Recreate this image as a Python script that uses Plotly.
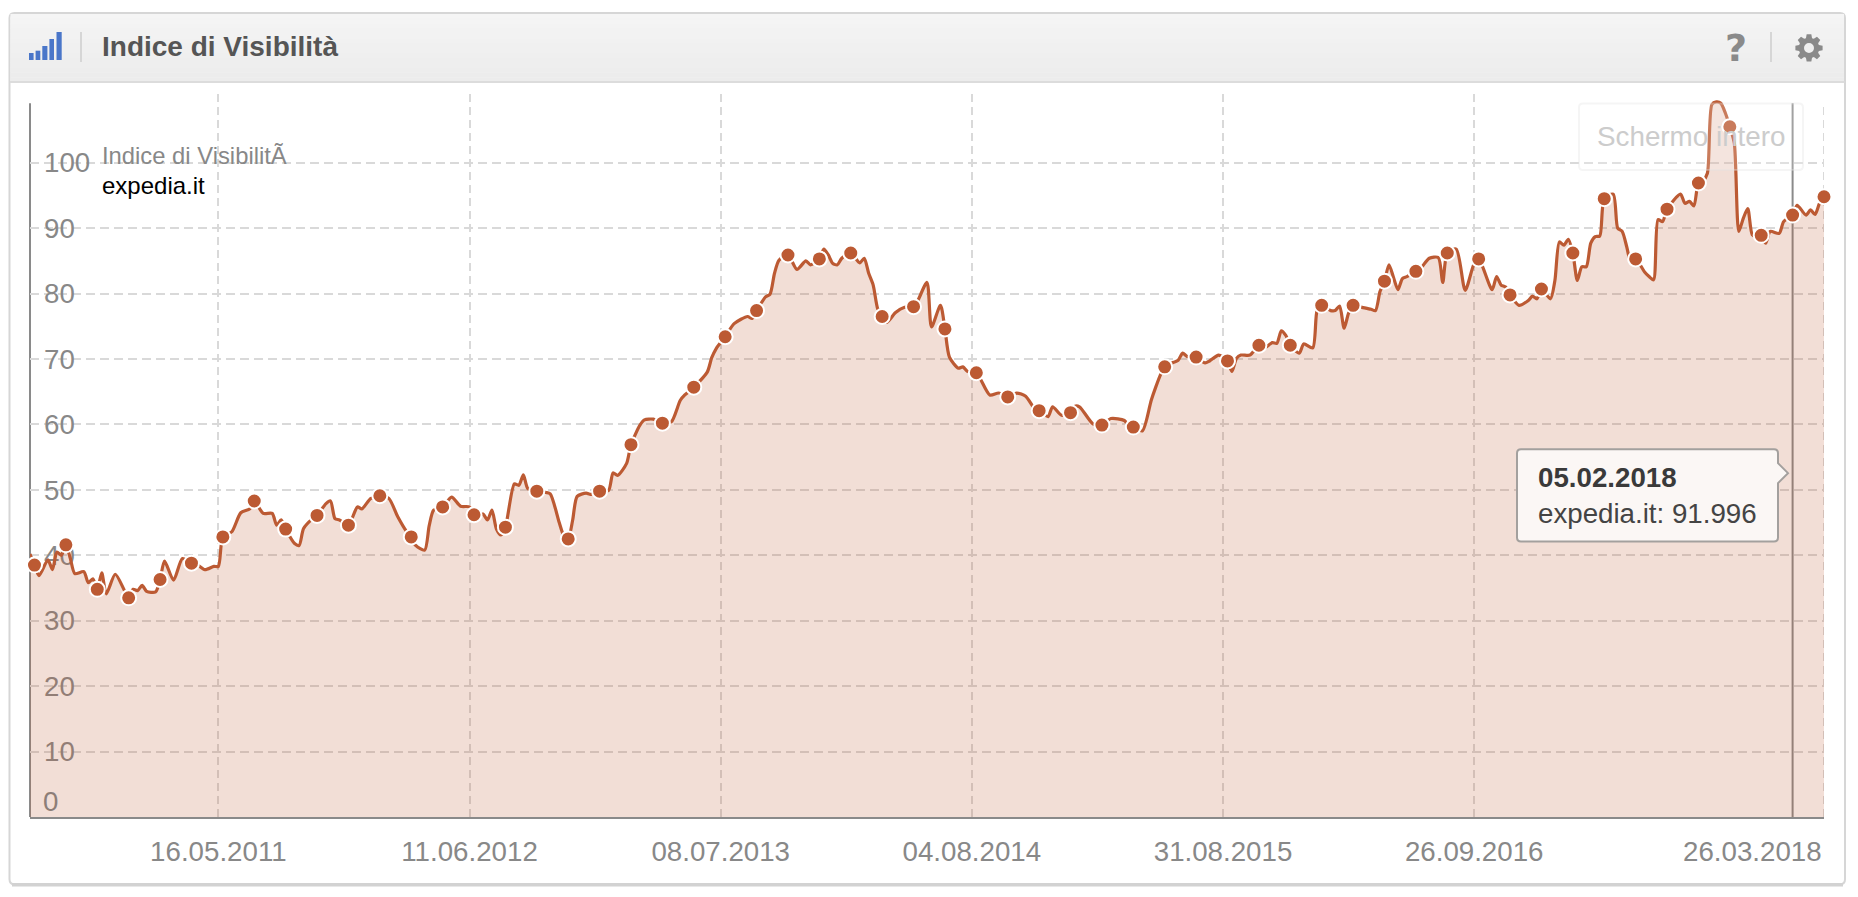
import math
import pandas as pd
import plotly.graph_objects as go

# ---------- data ----------
SERIES_NAME = "expedia.it"
FIRST_WEEK = "2010-07-26"
marker_weeks = list(range(1, 401, 7))
marker_values = [38.5, 41.6, 34.8, 33.5, 36.3, 38.8, 42.8, 48.3, 44.0, 46.1, 44.6, 49.1, 42.8, 47.4, 46.2,
                 44.3, 49.8, 42.5, 49.8, 56.9, 60.2, 65.7, 73.4, 77.4, 85.9, 85.3, 86.2, 76.5, 78.0, 74.6,
                 67.9, 64.2, 62.1, 61.8, 59.9, 59.6, 68.8, 70.3, 69.7, 72.1, 72.1, 78.2, 78.2, 81.9, 83.4,
                 86.2, 85.3, 79.8, 80.7, 86.2, 94.5, 85.3, 92.9, 96.9, 105.5, 88.9, 92.0, 94.8]
line_weeks = [0, 2, 4, 5, 6, 7, 9, 10, 12, 13, 14, 16, 17, 19, 21, 23, 24, 25, 26, 28, 30, 32, 34, 37, 39, 41, 42,
              45, 47, 49, 52, 54, 55, 56, 59, 60, 61, 63, 66, 67, 68, 69, 73, 74, 76, 77, 80, 82, 84, 86, 88, 89, 90,
              94, 96, 98, 101, 102, 103, 104, 105, 108, 109, 110, 111, 115, 116, 118, 119, 121, 122, 124, 125,
              129, 130, 131, 133, 136, 137, 139, 143, 145, 146, 151, 152, 153, 157, 160, 161, 164, 165, 166, 167,
              171, 173, 174, 177, 178, 179, 180, 181, 185, 186, 187, 188, 189, 191, 193, 195, 198, 200, 201, 203,
              205, 207, 208, 209, 214, 216, 220, 222, 224, 227, 228, 230, 233, 234, 237, 241, 244, 245, 248, 250,
              251, 252, 255, 256, 257, 258, 262, 263, 265, 266, 268, 269, 270, 272, 275, 277, 278, 279, 280, 283,
              284, 286, 287, 290, 291, 292, 293, 294, 297, 299, 300, 301, 303, 304, 305, 306, 307, 310, 312, 314,
              315, 318, 320, 322, 326, 327, 328, 329, 332, 334, 335, 336, 339, 340, 341, 342, 343, 345, 346, 347,
              348, 349, 350, 353, 354, 355, 356, 357, 360, 361, 362, 363, 364, 368, 369, 370, 371, 373, 374, 375,
              376, 377, 378, 380, 381, 382, 383, 384, 385, 387, 388, 390, 391, 394, 396, 397, 398, 399]
line_values = [40.2, 36.9, 39.3, 37.8, 40.5, 40.0, 39.5, 37.2, 37.5, 35.8, 36.4, 37.3, 34.1, 37.1, 34.7, 34.8, 34.6,
               35.4, 34.5, 34.4, 39.1, 36.2, 39.5, 38.7, 37.8, 38.3, 38.3,
               43.6, 46.5, 47.1, 46.4, 46.4, 44.6, 45.4, 41.8, 41.5, 44.1, 45.6, 47.9, 48.3, 45.6, 45.4, 47.4, 47.1,
               48.7, 48.7, 48.7, 45.9, 43.6, 41.5, 40.8, 44.5, 46.9,
               48.9, 47.5, 47.4, 46.3, 45.4, 46.9, 44.0, 43.1, 50.9, 50.7, 52.3, 50.2, 49.6, 49.4, 45.0, 43.0, 45.4,
               49.0, 49.5, 49.3,
               49.9, 52.6, 52.2, 54.0, 59.9, 60.7, 60.8, 60.4, 63.7, 64.5, 68.0, 70.2, 71.6, 75.4, 76.5, 76.2, 79.5,
               79.9, 83.1, 85.1,
               83.7, 85.0, 84.4, 86.8, 85.9, 84.6, 84.4, 85.4, 84.7, 85.4, 83.1, 81.3, 77.7, 75.6, 77.1, 77.9, 79.0,
               81.7, 74.9, 78.2,
               70.3, 68.6, 68.8, 68.1, 64.5, 64.8, 64.8, 64.3, 62.4, 61.2, 62.7, 61.4, 62.8, 62.7, 60.1, 60.9, 60.6,
               59.8, 59.0, 63.7,
               65.7, 67.5, 69.5, 69.8, 70.9, 70.4, 69.4, 69.7, 70.6, 70.3, 68.1, 70.1, 70.6, 70.6, 71.6, 72.5, 72.4,
               74.3, 73.6, 70.9,
               72.3, 71.7, 77.5, 77.4, 77.4, 78.1, 74.7, 77.0, 77.9, 77.6, 77.4, 80.3, 84.4, 82.5, 80.6, 82.3, 82.6,
               83.8, 85.4, 85.5,
               81.7, 86.8, 80.5, 84.6, 80.6, 82.6, 81.3, 81.0, 78.2, 78.9, 79.6, 79.2, 79.2, 82.0, 87.9, 87.4, 88.3,
               82.0, 84.1, 84.1,
               87.7, 88.7, 88.8, 95.2, 90.0, 89.5, 87.2, 84.6, 83.3, 82.6, 82.1, 91.3, 91.0, 95.2, 93.8, 94.1, 93.4,
               97.2, 98.4, 108.9,
               109.3, 109.1, 107.6, 103.0, 89.5, 91.5, 93.0, 89.0, 88.7, 87.7, 89.5, 89.2, 91.0, 93.5, 92.0, 92.8,
               92.1, 93.8]
x_tick_dates = ["2011-05-16", "2012-06-11", "2013-07-08", "2014-08-04", "2015-08-31", "2016-09-26", "2018-03-26"]
x_tick_labels = ["16.05.2011", "11.06.2012", "08.07.2013", "04.08.2014", "31.08.2015", "26.09.2016", "26.03.2018"]
y_ticks = [0, 10, 20, 30, 40, 50, 60, 70, 80, 90, 100]
HOVER_DATE = "2018-02-05"
HOVER_LABEL = "05.02.2018"
HOVER_VALUE = "91.996"
TITLE = "Indice di Visibilità"
LEGEND_TITLE = "Indice di VisibilitÃ"
BUTTON_TEXT = "Schermo intero"

# ---------- layout geometry (page pixels) ----------
W, H = 1858, 897
L, R, T, B = 30, 1824, 94.0, 816.7
VISIBLE_TOP = 103.3
PX_PER_UNIT = 6.54
FONT = "Liberation Sans"
LINE = "#bc5a33"
TICK = "#888888"
AXIS = "#8a8a8a"
GRID = "#d9d9d9"
Y_MAX = (B - T) / PX_PER_UNIT


def px(x):
    return (x - L) / (R - L)


def py(y):
    return 1 - (y - T) / (B - T)


def P(x, y):
    return f"{px(x):.6f},{py(y):.6f}"


def rrect(x0, y0, x1, y1, r, notch=""):
    return (f"M{P(x0 + r, y0)} L{P(x1 - r, y0)} Q{P(x1, y0)} {P(x1, y0 + r)} {notch}L{P(x1, y1 - r)} "
            f"Q{P(x1, y1)} {P(x1 - r, y1)} L{P(x0 + r, y1)} Q{P(x0, y1)} {P(x0, y1 - r)} "
            f"L{P(x0, y0 + r)} Q{P(x0, y0)} {P(x0 + r, y0)} Z")


def wk(week):
    return pd.Timestamp(FIRST_WEEK) + pd.Timedelta(weeks=week)


points = dict(zip(line_weeks, line_values))
points.update(zip(marker_weeks, marker_values))
weeks_sorted = sorted(points)

fig = go.Figure()
fig.add_trace(go.Scatter(
    x=[wk(w) for w in weeks_sorted], y=[points[w] for w in weeks_sorted],
    mode="lines", name=SERIES_NAME, cliponaxis=False,
    line=dict(color=LINE, width=3.2, shape="spline", smoothing=0.7),
    fill="tozeroy", fillcolor="rgba(188,90,51,0.2)", hoverinfo="x+y"))
fig.add_trace(go.Scatter(
    x=[wk(w) for w in marker_weeks], y=marker_values,
    mode="markers", name=SERIES_NAME, cliponaxis=False, showlegend=False,
    marker=dict(color=LINE, size=15, line=dict(color="white", width=2))))

shapes = []
# panel
shapes.append(dict(type="path", path=rrect(9.5, 13, 1845, 884, 5), xref="paper", yref="paper",
                   fillcolor="white", line=dict(color="#d6d6d6", width=2), layer="below"))
# header gradient
N = 14
for i in range(N):
    y0 = 14 + (82 - 14) * i / N
    y1 = 14 + (82 - 14) * (i + 1) / N + 0.5
    c = int(245 - (245 - 236) * i / (N - 1))
    shapes.append(dict(type="rect", xref="paper", yref="paper", x0=px(10.5), x1=px(1844), y0=py(y0), y1=py(y1),
                       fillcolor=f"rgb({c},{c},{c})", line=dict(width=0), layer="below"))
shapes.append(dict(type="line", xref="paper", yref="paper", x0=px(10), x1=px(1844.5), y0=py(82), y1=py(82),
                   line=dict(color="#dcdcdc", width=2), layer="below"))
shapes.append(dict(type="line", xref="paper", yref="paper", x0=px(12), x1=px(1843), y0=py(884.5), y1=py(884.5),
                   line=dict(color="#d2d2d2", width=3.5), layer="below"))
# signal icon
for (x0, x1, top) in [(29, 33.6, 53), (35.6, 40.3, 50.7), (42.3, 47.4, 46), (49.4, 54, 39), (56.5, 61.7, 32)]:
    shapes.append(dict(type="rect", xref="paper", yref="paper", x0=px(x0), x1=px(x1), y0=py(top), y1=py(60),
                       fillcolor="#4a76c9", line=dict(width=0), layer="below"))
# header dividers
for xd in (81, 1771):
    shapes.append(dict(type="line", xref="paper", yref="paper", x0=px(xd), x1=px(xd), y0=py(32), y1=py(62),
                       line=dict(color="#d6d6d6", width=2), layer="below"))
# gear
gx, gy, teeth = 1809, 48, 8
pts = []
for k in range(teeth):
    a = 2 * math.pi * k / teeth
    for da, rad in [(-0.30, 10.3), (-0.17, 13.8), (0.17, 13.8), (0.30, 10.3)]:
        pts.append(P(gx + rad * math.cos(a + da), gy + rad * math.sin(a + da)))
shapes.append(dict(type="path", path="M" + " L".join(pts) + " Z", xref="paper", yref="paper",
                   fillcolor="#8a8a8a", line=dict(width=0), layer="below"))
shapes.append(dict(type="circle", xref="paper", yref="paper", x0=px(gx - 5), x1=px(gx + 5), y0=py(gy - 5), y1=py(gy + 5),
                   fillcolor="#efefef", line=dict(width=0), layer="below"))
# the axes stop at the visible top: the extra head room only lets the peak of the line show
shapes.append(dict(type="rect", xref="paper", yref="paper", x0=px(L - 2), x1=px(R + 3), y0=py(T - 2), y1=py(VISIBLE_TOP),
                   fillcolor="white", line=dict(width=0), layer="between"))
# white patches behind the y labels (they interrupt the grid)
for v in y_ticks[1:]:
    yy = B - PX_PER_UNIT * v
    shapes.append(dict(type="rect", xref="paper", yref="paper", x0=px(37), x1=px(93 if v == 100 else 77),
                       y0=py(yy - 2), y1=py(yy + 2), fillcolor="white", line=dict(width=0), layer="between"))
# y axis line
shapes.append(dict(type="line", xref="paper", yref="paper", x0=px(L), x1=px(L), y0=0, y1=py(VISIBLE_TOP),
                   line=dict(color=AXIS, width=2), layer="between"))
# last vertical grid line (at the range end)
shapes.append(dict(type="line", xref="x", yref="paper", x0=x_tick_dates[-1], x1=x_tick_dates[-1], y0=0, y1=py(VISIBLE_TOP),
                   line=dict(color=GRID, width=2, dash="8px,5px"), layer="between"))
# crosshair
shapes.append(dict(type="line", xref="x", yref="paper", x0=HOVER_DATE, x1=HOVER_DATE, y0=0, y1=py(VISIBLE_TOP),
                   line=dict(color=AXIS, width=2), layer="between"))
# full screen button
shapes.append(dict(type="path", path=rrect(1579, 103.5, 1803, 170, 4), xref="paper", yref="paper",
                   fillcolor="rgba(255,255,255,0.2)", line=dict(color="rgba(225,225,225,0.35)", width=2), layer="above"))
# tooltip
notch = f"L{P(1778, 463)} L{P(1788, 473)} L{P(1778, 483)} "
shapes.append(dict(type="path", path=rrect(1517, 449, 1778, 541.3, 4, notch), xref="paper", yref="paper",
                   fillcolor="#fbf7f5", line=dict(color="#a3a09e", width=2), layer="above"))


def note(x, y, text, size, color, anchor="left", bold=False, family=FONT):
    return dict(xref="paper", yref="paper", x=px(x), y=py(y), text=f"<b>{text}</b>" if bold else text,
                showarrow=False, xanchor=anchor, yanchor="middle", align="left",
                font=dict(family=family, size=size, color=color), xshift=0, yshift=0)


annotations = [
    note(100, 47, TITLE, 28, "#555555", bold=True),
    note(1736, 48, "?", 38, "#8a8a8a", anchor="center", bold=True, family="DejaVu Sans"),
    note(100, 155, LEGEND_TITLE, 23.8, "#888888"),
    note(100, 185, SERIES_NAME, 24, "#000000"),
    note(1691, 136, BUTTON_TEXT, 27.8, "#cccccc", anchor="center"),
    note(1536, 477, HOVER_LABEL, 27.7, "#3a3a3a", bold=True),
    note(1536, 513, f"{SERIES_NAME}: {HOVER_VALUE}", 27.7, "#444444"),
    note(41, 801, str(y_ticks[0]), 27.7, "#8d7e78"),
    note(1824, 851, x_tick_labels[-1], 27.7, TICK, anchor="right"),
]

fig.update_layout(
    width=W, height=H, autosize=False, showlegend=False,
    margin=dict(l=L, r=W - R, t=T, b=H - B, pad=0),
    paper_bgcolor="white", plot_bgcolor="rgba(0,0,0,0)",
    font=dict(family=FONT),
    shapes=shapes, annotations=annotations,
    xaxis=dict(type="date", range=[wk(0), wk(400)], tickmode="array", tickvals=x_tick_dates,
               ticktext=x_tick_labels[:-1] + [""], tickangle=0, ticklabelstandoff=9,
               showgrid=True, gridcolor=GRID, griddash="8px,5px", gridwidth=2,
               showline=True, linecolor=AXIS, linewidth=2, ticks="", zeroline=False,
               tickfont=dict(family=FONT, size=27.7, color=TICK), layer="below traces"),
    yaxis=dict(range=[0, Y_MAX], tickmode="array", tickvals=y_ticks,
               ticktext=[""] + [str(v) for v in y_ticks[1:]],
               showgrid=True, gridcolor=GRID, griddash="9px,5px", gridwidth=2,
               showline=False, ticks="", zeroline=False,
               ticklabelposition="inside", ticklabelstandoff=11,
               tickfont=dict(family=FONT, size=27.7, color=TICK), layer="below traces"),
)

fig.write_html("out.html", config=dict(displayModeBar=False),
               post_script="document.body.style.margin='0';document.body.style.overflow='hidden';")
